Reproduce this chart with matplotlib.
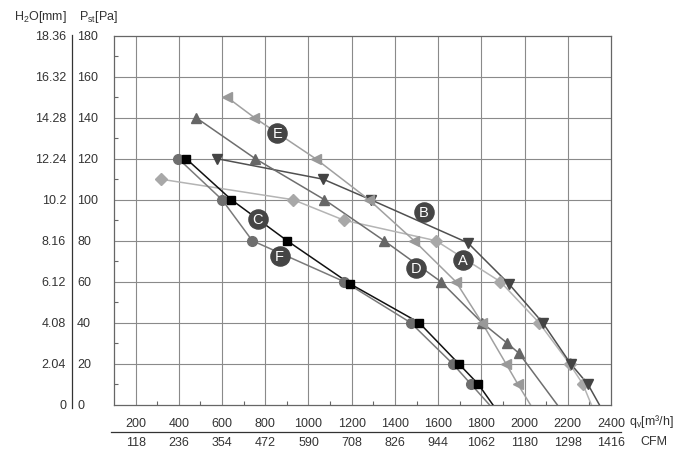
import numpy as np
import matplotlib
matplotlib.use("Agg")
from matplotlib import pyplot as plt
from matplotlib.transforms import blended_transform_factory

# fan curves, qv [m3/h] vs Pst [Pa]; last point is where the line meets 0 (no marker)
a_qv = [317, 929, 1164, 1590, 1888, 2067, 2208, 2270, 2309]
a_pst = [110, 100, 90, 80, 60, 40, 20, 10, 0]

b_qv = [577, 1068, 1288, 1737, 1927, 2084, 2213, 2293, 2346]
b_pst = [120, 110, 100, 79, 59, 40, 20, 10, 0]

c_qv = [434, 643, 901, 1192, 1512, 1695, 1786, 1853]
c_pst = [120, 100, 80, 59, 40, 20, 10, 0]

d_qv = [480, 754, 1074, 1350, 1613, 1803, 1920, 1975, 2151]
d_pst = [140, 120, 100, 80, 60, 40, 30, 25, 0]

e_qv = [623, 750, 1033, 1280, 1489, 1682, 1803, 1914, 1969, 2027]
e_pst = [150, 140, 120, 100, 80, 60, 40, 20, 10, 0]

f_qv = [398, 600, 740, 1166, 1473, 1667, 1752, 1837]
f_pst = [120, 100, 80, 60, 40, 20, 10, 0]

curve_labels = ["E", "C", "F", "B", "A", "D"]
label_qv = [856, 765, 866, 1535, 1713, 1497]
label_pst = [132.4, 90.6, 72.5, 94.1, 70.5, 66.9]

qv_ticks = [200, 400, 600, 800, 1000, 1200, 1400, 1600, 1800, 2000, 2200, 2400]
cfm_ticks = ["118", "236", "354", "472", "590", "708", "826", "944", "1062", "1180", "1298", "1416"]
pa_ticks = [0, 20, 40, 60, 80, 100, 120, 140, 160, 180]
mm_ticks = ["0", "2.04", "4.08", "6.12", "8.16", "10.2", "12.24", "14.28", "16.32", "18.36"]

plt.rcParams['font.family'] = ['Liberation Sans', 'DejaVu Sans']
txt = "#333333"
fs = 9

fig = plt.figure(figsize=(7, 4.64), dpi=100)
ax = fig.add_axes([114 / 700, 1 - 405.7 / 464, (611 - 114) / 700, (405.7 - 36.7) / 464])
ax.set_xlim(100, 2400)
ax.set_ylim(0, 180)

for x in qv_ticks[:-1]:
    ax.axvline(x, color="#8a8a8a", lw=0.8, zorder=1)
for y in pa_ticks[1:-1]:
    ax.axhline(y, color="#8a8a8a", lw=0.8, zorder=1)
for s in ax.spines.values():
    s.set_color("#666666")
    s.set_linewidth(0.9)

ax.set_xticks(np.arange(300, 2400, 200), minor=True)
ax.set_yticks(np.arange(10, 180, 20), minor=True)
ax.set_xticks([])
ax.set_yticks([])
ax.tick_params(which="minor", direction="in", length=3, width=0.8, color="#666666")
ax.set_xticklabels([], minor=True)
ax.set_yticklabels([], minor=True)

series = [
    (a_qv, a_pst, "#b4b4b4", "#a8a8a8", "D", 6),
    (b_qv, b_pst, "#505050", "#444444", "v", 7),
    (d_qv, d_pst, "#6e6e6e", "#666666", "^", 7),
    (e_qv, e_pst, "#a0a0a0", "#999999", "<", 7),
    (f_qv, f_pst, "#7a7a7a", "#6e6e6e", "o", 7),
    (c_qv, c_pst, "#111111", "#000000", "s", 6),
]
for qv, pst, lc, mc, mk, ms in series:
    ax.plot(qv, pst, color=lc, lw=1.1, zorder=3)
    ax.plot(qv[:-1], pst[:-1], ls="none", marker=mk, ms=ms, color=mc, zorder=4)

ax.scatter(label_qv, label_pst, s=190, color="#454545", zorder=5)
for lab, x, y in zip(curve_labels, label_qv, label_pst):
    ax.text(x, y, lab, color="white", fontsize=10.5, ha="center", va="center", zorder=6)

# left double scale
for p, mm in zip(pa_ticks, mm_ticks):
    yf = 1 - (405.7 - p / 180 * 369) / 464
    fig.text(66 / 700, yf, mm, ha="right", va="center", fontsize=fs, color=txt)
    fig.text(77 / 700, yf, str(p), ha="left", va="center", fontsize=fs, color=txt)
fig.add_artist(plt.Line2D([72 / 700, 72 / 700], [1 - 36 / 464, 1 - 409 / 464], color="#333333", lw=0.9))
fig.text(14 / 700, 1 - 17 / 464, r"H$_\mathregular{2}$O[mm]", ha="left", va="center", fontsize=fs, color=txt)
fig.text(79 / 700, 1 - 17 / 464, r"P$_\mathregular{st}$[Pa]", ha="left", va="center", fontsize=fs, color=txt)

# bottom double scale
tr = blended_transform_factory(ax.transData, fig.transFigure)
for q, cfm in zip(qv_ticks, cfm_ticks):
    ax.text(q, 1 - 424 / 464, str(q), transform=tr, ha="center", va="center", fontsize=fs, color=txt, clip_on=False)
    ax.text(q, 1 - 443 / 464, cfm, transform=tr, ha="center", va="center", fontsize=fs, color=txt, clip_on=False)
fig.add_artist(plt.Line2D([111 / 700, 621 / 700], [1 - 433 / 464, 1 - 433 / 464], color="#333333", lw=0.9))
fig.text(629 / 700, 1 - 422 / 464, r"q$_\mathregular{v}$[m³/h]", ha="left", va="center", fontsize=fs, color=txt)
fig.text(640 / 700, 1 - 442 / 464, "CFM", ha="left", va="center", fontsize=fs, color=txt)

fig.savefig("out.png", dpi=100)
